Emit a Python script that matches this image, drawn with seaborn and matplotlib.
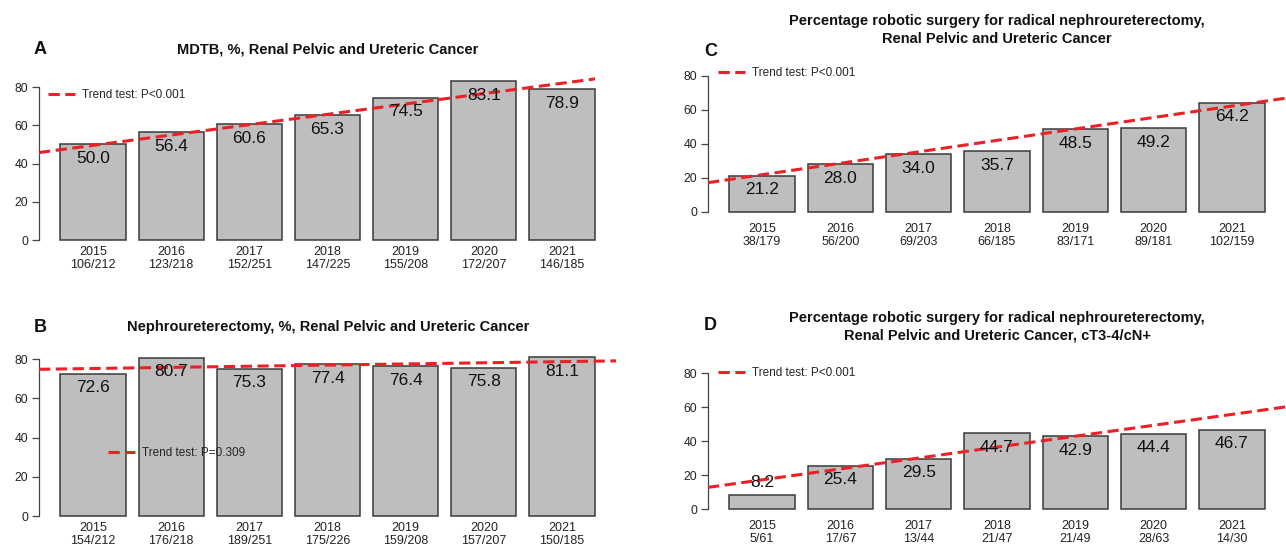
import pandas as pd
import matplotlib
matplotlib.use("Agg")
import matplotlib.pyplot as plt
from matplotlib.lines import Line2D
from matplotlib.patches import Rectangle
import seaborn as sns

years = ["2015", "2016", "2017", "2018", "2019", "2020", "2021"]

mdtb_pct = [50.0, 56.4, 60.6, 65.3, 74.5, 83.1, 78.9]
mdtb_n = ["106/212", "123/218", "152/251", "147/225", "155/208", "172/207", "146/185"]

neph_pct = [72.6, 80.7, 75.3, 77.4, 76.4, 75.8, 81.1]
neph_n = ["154/212", "176/218", "189/251", "175/226", "159/208", "157/207", "150/185"]

robot_pct = [21.2, 28.0, 34.0, 35.7, 48.5, 49.2, 64.2]
robot_n = ["38/179", "56/200", "69/203", "66/185", "83/171", "89/181", "102/159"]

robot_adv_pct = [8.2, 25.4, 29.5, 44.7, 42.9, 44.4, 46.7]
robot_adv_n = ["5/61", "17/67", "13/44", "21/47", "21/49", "28/63", "14/30"]

# trend line value read at 2015 and at 2021
trend_a = [49.5, 82.0]
trend_b = [75.3, 78.8]
trend_c = [21.9, 62.3]
trend_d = [17.3, 55.8]

trend_p = ["P<0.001", "P=0.309", "P<0.001", "P<0.001"]

titles = [
    "MDTB, %, Renal Pelvic and Ureteric Cancer",
    "Nephroureterectomy, %, Renal Pelvic and Ureteric Cancer",
    "Percentage robotic surgery for radical nephroureterectomy,\nRenal Pelvic and Ureteric Cancer",
    "Percentage robotic surgery for radical nephroureterectomy,\nRenal Pelvic and Ureteric Cancer, cT3-4/cN+",
]

sns.set_style("white")
plt.rcParams["font.family"] = ["Liberation Sans", "DejaVu Sans"]

W, H = 1286, 545
fig = plt.figure(figsize=(W / 100, H / 100), dpi=100)

BAR_W = 1 / 1.2
RED = "#EA2228"


def px(x, y):
    return x / W, 1 - y / H


panels = [
    # values, counts, trend, p, title, letter, axes rect (px), ylim, tick pad, title pos, letter pos, legend pos, clip
    (mdtb_pct, mdtb_n, trend_a, trend_p[0], titles[0], "A",
     (39, 246.4, 577, 171.6), (-3.32, 86.42), -0.5, (328, 50), (34, 50), (48, 95), True),
    (neph_pct, neph_n, trend_b, trend_p[1], titles[1], "B",
     (39, 522.4, 577, 171.6), (-3.24, 84.34), -0.5, (328, 327), (34, 327), (108, 453), False),
    (robot_pct, robot_n, trend_c, trend_p[2], titles[2], "C",
     (708, 217.4, 578, 146.9), (-3.2, 83.2), 4, (997, 30), (704, 52), (718, 73), False),
    (robot_adv_pct, robot_adv_n, trend_d, trend_p[3], titles[3], "D",
     (708, 514.7, 578, 146.9), (-3.2, 83.2), 4, (997, 327), (704, 326), (718, 373), False),
]

for vals, counts, trend, p, title, letter, rect, ylim, pad, tpos, lpos, legpos, clip in panels:
    x0, yb, w, h = rect
    ax = fig.add_axes([x0 / W, 1 - yb / H, w / W, h / H])

    df = pd.DataFrame({
        "label": [f"{y}\n{n}" for y, n in zip(years, counts)],
        "pct": vals,
    })
    sns.barplot(data=df, x="label", y="pct", color="#BEBEBE", saturation=1,
                width=BAR_W, edgecolor="#3A3A3A", linewidth=1.1, ax=ax, zorder=1)

    for i, v in enumerate(vals):
        off = -10 if v > 12 else 9
        ax.annotate(f"{v:.1f}", xy=(i, v), xytext=(0, off), textcoords="offset points",
                    ha="center", va="center", fontsize=12.5, color="#111111", zorder=5)

    line = ax.axline((0, trend[0]), (6, trend[1]), color=RED, lw=2.2,
                     ls=(0, (3.7, 1.8)), zorder=3)
    if clip:
        clip_rect = Rectangle((-1, -10), 6 + BAR_W / 2 + 1, 200, transform=ax.transData)
        line.set_clip_path(clip_rect)

    ax.set_xlim(-0.69, 6.69)
    ax.set_ylim(*ylim)
    ax.set_yticks([0, 20, 40, 60, 80])
    ax.set_xlabel("")
    ax.set_ylabel("")
    for s in ("top", "right", "bottom"):
        ax.spines[s].set_visible(False)
    ax.spines["left"].set_bounds(0, 80)
    ax.spines["left"].set_color("#444444")
    ax.spines["left"].set_linewidth(0.9)
    ax.tick_params(axis="y", direction="out", length=5, width=0.9, color="#444444",
                   labelsize=8.8, labelcolor="#222222", pad=3, left=True)
    ax.tick_params(axis="x", length=0, labelsize=9, labelcolor="#222222", pad=pad)
    for t in ax.get_xticklabels():
        t.set_linespacing(1.1)

    handle = Line2D([], [], color=RED, lw=2.2, ls=(0, (3.7, 1.8)))
    ax.legend([handle], [f"Trend test: {p}"], loc="center left",
              bbox_to_anchor=px(*legpos), bbox_transform=fig.transFigure,
              frameon=False, borderpad=0, borderaxespad=0, handlelength=2.3,
              handletextpad=0.6, fontsize=8.5)

    fig.text(*px(*tpos), title, ha="center", va="center", fontsize=10.5,
             fontweight="bold", linespacing=1.3, color="#111111")
    fig.text(*px(*lpos), letter, ha="left", va="center", fontsize=13,
             fontweight="bold", color="#111111")

fig.savefig("out.png", dpi=100)
